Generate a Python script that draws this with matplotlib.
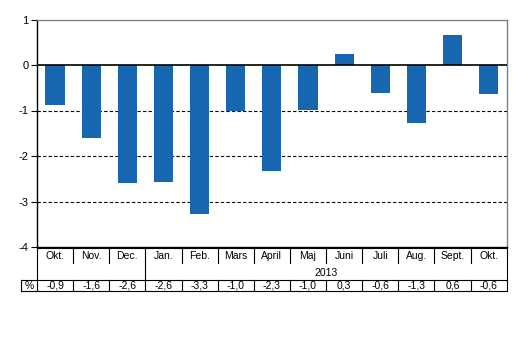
import matplotlib.pyplot as plt

plt.rcParams['font.family'] = ['Liberation Sans', 'DejaVu Sans']

months = ['Okt.', 'Nov.', 'Dec.', 'Jan.', 'Feb.', 'Mars', 'April',
          'Maj', 'Juni', 'Juli', 'Aug.', 'Sept.', 'Okt.']
values = [-0.9, -1.6, -2.6, -2.6, -3.3, -1.0, -2.3, -1.0, 0.3, -0.6, -1.3, 0.6, -0.6]
bar_heights = [-0.88, -1.61, -2.6, -2.58, -3.28, -1.02, -2.34, -0.98, 0.25,
               -0.61, -1.27, 0.65, -0.63]
year_label = '2013'
year_start = 3  # first column of 2013

W, H = 530, 358
fig = plt.figure(figsize=(W / 100, H / 100), dpi=100)
left, right, top, bottom = 37, 506.7, 19.5, 247
ax = fig.add_axes([left / W, 1 - bottom / H, (right - left) / W, (bottom - top) / H])

n = len(months)
xs = list(range(n))
ax.bar(xs, bar_heights, width=0.53, color='#1767B0', zorder=3)

ax.set_xlim(-0.5, n - 0.5)
ax.set_ylim(-4, 1)
ax.set_yticks([-4, -3, -2, -1, 0, 1])
ax.set_yticklabels(['-4', '-3', '-2', '-1', '0', '1'], fontsize=8)
ax.tick_params(axis='y', length=4, width=0.8, pad=2)
ax.set_xticks([])

for y in [-1, -2, -3]:
    ax.axhline(y, color='black', lw=0.8, ls=(0, (3, 2)), zorder=1)
ax.axhline(0, color='black', lw=1.2, zorder=4)

ax.spines['left'].set_color('black')
ax.spines['bottom'].set_color('black')
ax.spines['top'].set_color('#808080')
ax.spines['right'].set_color('#808080')
for s in ax.spines.values():
    s.set_linewidth(1)


# table below the plot, drawn in pixel coords converted to data
def py(p):
    return -4 - (p - bottom) / ((bottom - top) / 5)


def px(p):
    return -0.5 + (p - left) / ((right - left) / n)


kw = dict(color='black', lw=0.8, clip_on=False)
y_top, y_sep, y_mid, y_bot = py(248), py(263), py(280), py(291)
ax.plot([-0.5, n - 0.5], [y_top, y_top], **kw)
ax.plot([px(21), n - 0.5], [y_mid, y_mid], **kw)
ax.plot([px(21), n - 0.5], [y_bot, y_bot], **kw)
ax.plot([-0.5, -0.5], [y_top, y_bot], **kw)
ax.plot([px(21), px(21)], [y_mid, y_bot], **kw)
ax.plot([n - 0.5, n - 0.5], [y_top, y_bot], **kw)
for i in range(1, n):
    y_end = y_mid if i == year_start else y_sep
    ax.plot([i - 0.5, i - 0.5], [y_top, y_end], **kw)
    ax.plot([i - 0.5, i - 0.5], [y_mid, y_bot], **kw)

for i, (m, v) in enumerate(zip(months, values)):
    ax.text(i, py(256), m, ha='center', va='center', fontsize=7.5)
    ax.text(i, py(286), f'{v:.1f}'.replace('.', ','), ha='center', va='center', fontsize=7.5)
ax.text((year_start + n - 1) / 2, py(272.5), year_label, ha='center', va='center', fontsize=7.5)
ax.text(px(29), py(286), '%', ha='center', va='center', fontsize=7.5)

fig.savefig('out.png', dpi=100)
